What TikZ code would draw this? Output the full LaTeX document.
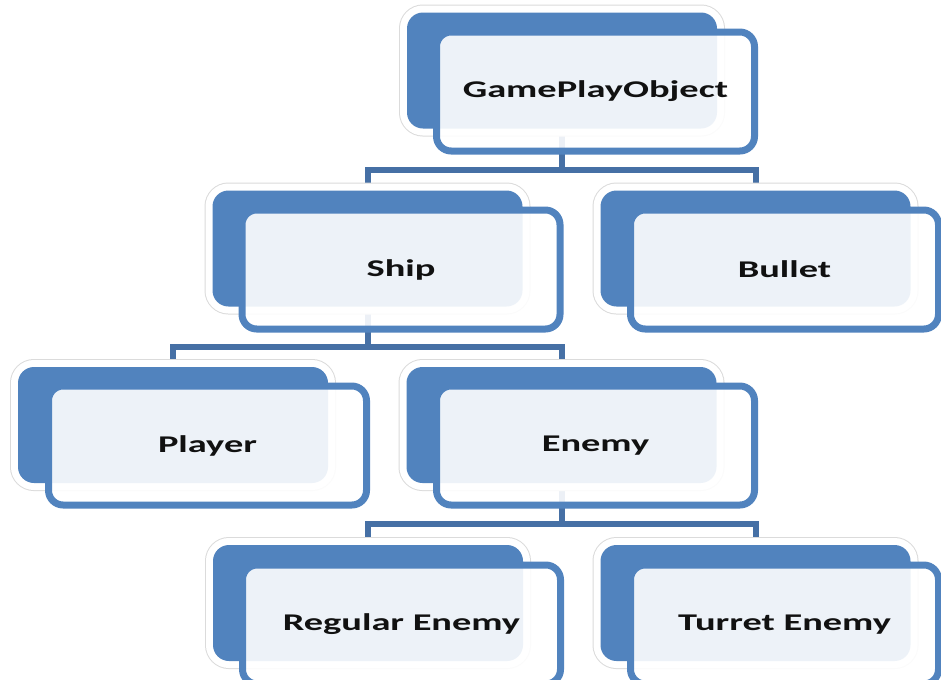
\documentclass[tikz,border=0pt]{standalone}
\usepackage{fontspec}
\usepackage{graphicx}
\newfontfamily\labfont{Carlito}
\definecolor{accent}{HTML}{5183BE}
\definecolor{connc}{HTML}{4670A5}
\definecolor{txt}{HTML}{111111}
\begin{document}
\begin{tikzpicture}[x=0.75pt,y=-0.75pt,
  backbox/.style={rectangle, rounded corners=12pt, inner sep=0pt,
    minimum width=232.5pt, minimum height=87pt, fill=accent, draw=none,
    preaction={draw=black!14, line width=12pt},
    preaction={draw=white, line width=10.5pt}},
  frontbox/.style={rectangle, rounded corners=11pt, inner sep=0pt,
    minimum width=238.5pt, minimum height=89.25pt, fill=white,
    fill opacity=0.9, text opacity=1, draw=accent, draw opacity=1,
    line width=5.25pt, text=txt,
    font=\labfont\bfseries\fontsize{18pt}{20pt}\selectfont},
  narrow/.style={minimum width=231pt},
  conn/.style={draw=connc, line width=4.5pt,
    preaction={draw=white, line width=6.5pt}}
]
\useasboundingbox (0,0) rectangle (941,679);
\clip (0,0) rectangle (941,679);

% junction coordinates
\coordinate (j1) at (562,170);
\coordinate (j2) at (367.5,347);
\coordinate (j3) at (561.5,524);

% centres of the back boxes
\path (562,70.5) coordinate (gpoC)
      (367.5,248.5) coordinate (shipC)
      (755.5,248.5) coordinate (bulletC)
      (173,425) coordinate (playerC)
      (561.5,425) coordinate (enemyC)
      (368,603) coordinate (regC)
      (755.5,603) coordinate (turC);

% connectors (drawn first, under the boxes)
\draw[conn] ([yshift=-43.5pt]shipC) |- (j1) -| ([yshift=-43.5pt]bulletC)
            ([yshift=43.5pt]gpoC) -- (j1);
\draw[conn] ([yshift=-43.5pt]playerC) |- (j2) -| ([yshift=-43.5pt]enemyC)
            ([yshift=43.5pt]shipC) -- (j2);
\draw[conn] ([yshift=-43.5pt]regC) |- (j3) -| ([yshift=-43.5pt]turC)
            ([yshift=43.5pt]enemyC) -- (j3);

% GamePlayObject
\node[backbox] (gpoB) at (gpoC) {};
\node[frontbox] (gpo) at (595.5,91.5) {\scalebox{1.6}[1]{GamePlayObject}};
% Ship
\node[backbox] (shipB) at (shipC) {};
\node[frontbox] (ship) at (401,269.5) {\scalebox{1.6}[1]{Ship}};
% Bullet
\node[backbox] (bulletB) at (bulletC) {};
\node[frontbox,narrow] (bullet) at (784.5,269.5) {\scalebox{1.6}[1]{Bullet}};
% Player
\node[backbox] (playerB) at (playerC) {};
\node[frontbox] (player) at (207.5,445.5) {\scalebox{1.6}[1]{Player}};
% Enemy
\node[backbox] (enemyB) at (enemyC) {};
\node[frontbox] (enemy) at (595.5,445.5) {\scalebox{1.6}[1]{Enemy}};
% Regular Enemy
\node[backbox] (regB) at (regC) {};
\node[frontbox] (reg) at (401.5,624.5) {\scalebox{1.6}[1]{Regular Enemy}};
% Turret Enemy
\node[backbox] (turB) at (turC) {};
\node[frontbox,narrow] (tur) at (784.5,624.5) {\scalebox{1.6}[1]{Turret Enemy}};
\end{tikzpicture}
\end{document}
